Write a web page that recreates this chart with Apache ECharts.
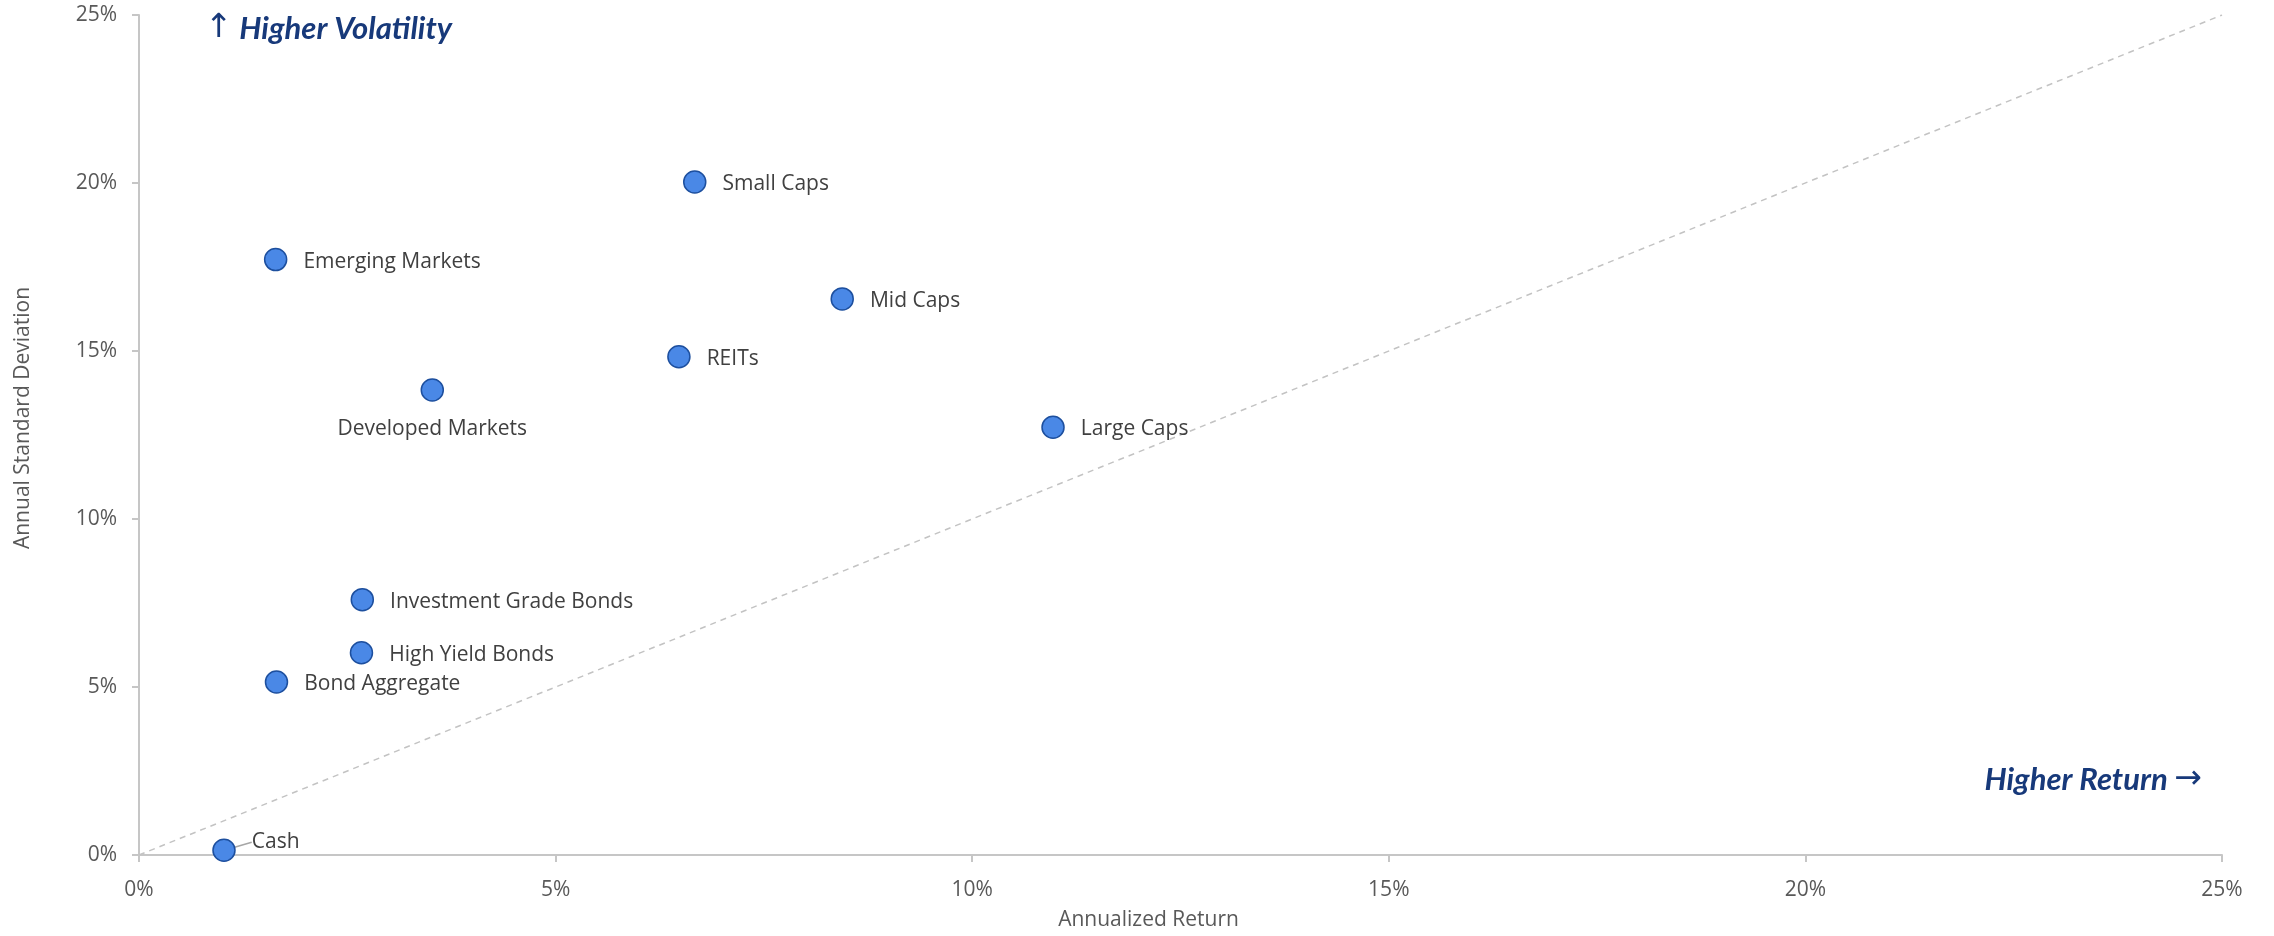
<!DOCTYPE html>
<html>
<head>
<meta charset="utf-8">
<title>Risk vs Return by Asset Class</title>
<script src="https://cdn.jsdelivr.net/npm/echarts@6/dist/echarts.min.js"></script>
<style>
  html, body { margin: 0; padding: 0; background: #ffffff; }
  #chart { width: 2274px; height: 936px; }
</style>
</head>
<body>
<div id="chart"></div>
<script>
// Asset classes with annualized return (%) and annual standard deviation (%)
const assetNames = [
  'Small Caps', 'Emerging Markets', 'Mid Caps', 'REITs', 'Developed Markets',
  'Large Caps', 'Investment Grade Bonds', 'High Yield Bonds', 'Bond Aggregate', 'Cash'
];
const annualizedReturn = [6.67, 1.64, 8.44, 6.48, 3.52, 10.97, 2.68, 2.67, 1.65, 1.02];
const annualStdDev     = [20.03, 17.72, 16.55, 14.83, 13.84, 12.73, 7.60, 6.02, 5.15, 0.14];

// Axis ticks (percent)
const axisTicks = [0, 5, 10, 15, 20, 25];
// Reference line where return equals volatility
const parityLine = [[0, 0], [25, 25]];

const FONT = '"Open Sans", "Noto Sans", sans-serif';
const TEXT_GREY = '#595959';
const AXIS_GREY = '#c6c6c6';
const NAVY = '#17397a';

// Label placement per asset (default: right of the marker)
const labelPlacement = {
  'Developed Markets': { position: 'bottom', distance: 17, dy: 0 },
  'Cash': { position: 'right', distance: 16, dy: -8, leader: true }
};

const points = assetNames.map((name, i) => {
  const p = labelPlacement[name] || {};
  const item = {
    name: name,
    value: [annualizedReturn[i], annualStdDev[i]],
    label: { position: p.position || 'right', distance: p.distance != null ? p.distance : 16 }
  };
  if (p.leader) {
    item.labelLine = { show: true, lineStyle: { color: '#a6a6a6', width: 1.5 } };
  }
  return item;
});

const chart = echarts.init(document.getElementById('chart'), null, { renderer: 'canvas' });

const axisCommon = {
  type: 'value',
  min: axisTicks[0],
  max: axisTicks[axisTicks.length - 1],
  interval: axisTicks[1] - axisTicks[0],
  axisLine: { show: true, lineStyle: { color: AXIS_GREY, width: 2 } },
  axisTick: { show: true, length: 7, lineStyle: { color: AXIS_GREY, width: 2 } },
  splitLine: { show: false },
  axisLabel: {
    color: TEXT_GREY,
    fontFamily: FONT,
    fontSize: 21,
    formatter: v => v + '%'
  },
  nameLocation: 'middle'
};

// Arrow glyphs are drawn thinner and larger than the bold italic captions
const captionRich = {
  a: { fontFamily: '"DejaVu Sans", sans-serif', fontSize: 33, fill: NAVY, fontWeight: 'normal', verticalAlign: 'middle' },
  b: { fontFamily: 'Lato, sans-serif', fontSize: 31, fill: NAVY, fontWeight: 'bold', fontStyle: 'italic', verticalAlign: 'middle' }
};

chart.setOption({
  backgroundColor: '#ffffff',
  animation: false,
  grid: { left: 139, right: 52, top: 15, bottom: 77, containLabel: false },
  xAxis: Object.assign({}, axisCommon, {
    name: 'Annualized Return',
    nameGap: 55,
    axisLabel: Object.assign({}, axisCommon.axisLabel, { margin: 25 }),
    nameTextStyle: { color: TEXT_GREY, fontFamily: FONT, fontSize: 21, padding: [0, 64, 0, 0] }
  }),
  yAxis: Object.assign({}, axisCommon, {
    name: 'Annual Standard Deviation',
    nameGap: 105,
    axisLabel: Object.assign({}, axisCommon.axisLabel, { margin: 22 }),
    nameTextStyle: { color: TEXT_GREY, fontFamily: FONT, fontSize: 21, padding: [0, 0, 0, 34] }
  }),
  graphic: [
    {
      type: 'text',
      left: 205,
      top: 12,
      style: { text: '{a|↑}  {b|Higher Volatility}', rich: captionRich }
    },
    {
      type: 'text',
      right: 72,
      top: 763,
      style: { text: '{b|Higher Return}  {a|→}', rich: captionRich }
    }
  ],
  series: [
    {
      type: 'line',
      data: parityLine,
      symbol: 'none',
      silent: true,
      z: 1,
      lineStyle: { color: '#c3c3c3', width: 1.5, type: [6, 5] }
    },
    {
      type: 'scatter',
      data: points,
      symbol: 'circle',
      symbolSize: 22,
      z: 3,
      itemStyle: { color: '#4a88e6', borderColor: '#1d4f9e', borderWidth: 1.5, opacity: 1 },
      label: {
        show: true,
        formatter: '{b}',
        color: '#404040',
        fontFamily: FONT,
        fontSize: 21
      },
      labelLayout: params => {
        const p = labelPlacement[assetNames[params.dataIndex]];
        return { dy: p && p.dy != null ? p.dy : 2 };
      },
      labelLine: { show: false }
    }
  ]
});
</script>
</body>
</html>
